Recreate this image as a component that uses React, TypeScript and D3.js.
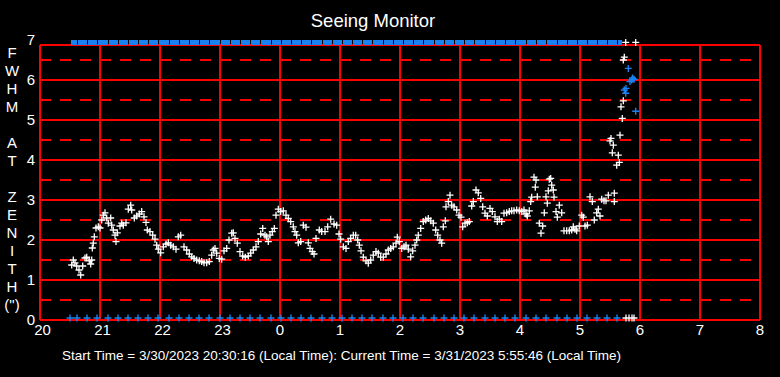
import React from "react";
import * as d3 from "d3";

// Minutes after 20:00 (local) and FWHM (arcsec) of the white seeing series
const seeingMinutes = [
  31.7, 33.3, 35, 36.7, 39, 40.7, 42.7, 45, 46.7, 49.3, 50.7, 51.7, 52.3, 53.3, 54.3, 56, 58.3, 60, 61.7, 63.3,
  65, 66.7, 68.3, 70.7, 71.7, 73.3, 75, 76, 77.3, 80, 81.7, 83.3, 86, 88.3, 90.7, 91.7, 94.3, 96.7, 99.3, 101.7,
  104, 106, 107.3, 110, 112.7, 115, 116.7, 118.3, 120.7, 123.3, 126, 128.3, 130.7, 133.3, 136, 138.3, 140.7, 144, 146.7, 149.3,
  151.7, 154, 156.7, 159.3, 161.7, 164, 166.7, 169.3, 171.7, 173.3, 175, 176.7, 179.3, 181.7, 184, 186.7, 189, 191.7, 193.3, 195,
  197.3, 200, 202.7, 205.3, 208.3, 210.7, 213.3, 216, 218.3, 220.7, 222.7, 225, 226.7, 228.3, 230, 232.3, 234.3, 236, 238.3, 240.7,
  243.3, 246, 248.3, 250.7, 253.3, 255, 256.7, 258.3, 260.7, 263.3, 266, 268.3, 270, 272.3, 274, 276, 279.3, 281.7, 285, 287.7,
  290.7, 294, 296.7, 299, 300.7, 303.3, 306, 308.3, 310.7, 313.3, 315.7, 317.7, 319.3, 321, 323.3, 326, 328.3, 330.7, 333.3, 336,
  338.3, 340.7, 343.3, 346, 348.3, 350.7, 353.3, 356, 357.3, 359.3, 361.7, 364, 366, 368.3, 370.7, 372.7, 375, 376.7, 378.3, 380.7,
  383.3, 385.7, 388.3, 390.7, 393.3, 395.7, 397.7, 400, 401.7, 403.3, 405.3, 406, 408.3, 410, 411.7, 414, 416.7, 419, 421, 422.7,
  425, 427.3, 429.3, 431.7, 433.3, 436, 438.3, 440.7, 442.7, 445, 447.3, 450, 452.3, 455, 457.3, 459.3, 461.7, 464, 466.7, 469.3,
  471.7, 474, 476.7, 479.3, 481.7, 484, 486, 487.3, 489.3, 490.7, 491.7, 494, 495.3, 496, 497.3, 499.3, 501, 502.7, 504.3, 506,
  507.3, 508.3, 509.3, 510.7, 511.7, 513.3, 514, 516, 517.3, 519.3, 521.7, 524, 526.7, 529.3, 531.7, 533.3, 535, 536.7, 539.3, 541.7,
  543.3, 545, 547.3, 550, 552.3, 554.3, 556.7, 558.3, 560, 561.7, 564, 566, 568.3, 570, 571, 572.3, 573.3, 574.3, 574.3, 576.7,
  578.3, 579.3, 580, 581, 582.3, 583.3, 583.3, 584.3, 585.7, 595.7, 586, 589, 592, 594,
];
const seeingValues = [
  1.375, 1.5, 1.43, 1.35, 1.25, 1.125, 1.35, 1.55, 1.57, 1.48, 1.4, 1.5, 1.8, 1.92, 2.08, 2.3, 2.33, 2.3, 2.5, 2.62,
  2.68, 2.55, 2.42, 2.55, 2.37, 2.25, 2.12, 1.96, 2.18, 2.35, 2.42, 2.37, 2.43, 2.77, 2.87, 2.75, 2.55, 2.6, 2.65, 2.71,
  2.58, 2.44, 2.25, 2.21, 2.12, 2.02, 1.87, 1.77, 1.68, 1.83, 1.9, 1.93, 1.87, 1.83, 1.77, 2.08, 2.12, 1.83, 1.75, 1.65,
  1.58, 1.54, 1.5, 1.48, 1.46, 1.43, 1.43, 1.46, 1.62, 1.75, 1.79, 1.67, 1.54, 1.52, 1.73, 1.79, 2.0, 2.17, 2.18, 2.04,
  1.92, 1.71, 1.6, 1.57, 1.6, 1.67, 1.75, 1.83, 1.96, 2.15, 2.29, 2.12, 2.08, 1.96, 2.12, 2.21, 2.29, 2.62, 2.77, 2.71,
  2.73, 2.62, 2.54, 2.46, 2.33, 2.21, 2.12, 1.93, 1.96, 2.37, 2.32, 1.93, 1.79, 1.71, 1.65, 2.04, 2.25, 2.21, 2.21, 2.33,
  2.52, 2.4, 2.37, 2.15, 2.02, 1.83, 1.79, 1.96, 2.04, 2.12, 2.12, 2.0, 1.87, 1.73, 1.57, 1.48, 1.42, 1.5, 1.62, 1.71,
  1.67, 1.57, 1.57, 1.65, 1.75, 1.79, 1.83, 1.92, 2.07, 1.96, 1.79, 1.83, 1.87, 1.77, 1.58, 1.73, 1.87, 2.0, 2.12, 2.29,
  2.46, 2.5, 2.54, 2.48, 2.42, 2.25, 2.12, 2.0, 1.92, 2.33, 2.48, 2.83, 2.96, 3.12, 2.87, 2.83, 2.75, 2.62, 2.57, 2.33,
  2.42, 2.43, 2.46, 2.85, 2.96, 3.25, 3.18, 3.04, 2.83, 2.67, 2.6, 2.79, 2.71, 2.58, 2.46, 2.52, 2.46, 2.67, 2.68, 2.71,
  2.73, 2.73, 2.75, 2.73, 2.71, 2.75, 2.65, 2.6, 2.73, 2.96, 3.07, 3.57, 3.32, 3.5, 3.08, 2.42, 2.17, 2.35, 2.68, 3.08,
  2.92, 3.23, 3.52, 3.54, 3.37, 3.25, 3.07, 2.71, 2.57, 2.87, 2.68, 2.23, 2.23, 2.23, 2.25, 2.33, 2.27, 2.23, 2.35, 2.62,
  2.57, 2.35, 2.37, 3.08, 2.96, 2.5, 2.68, 2.77, 2.6, 3.02, 2.98, 2.98, 3.12, 4.48, 4.54, 4.18, 4.37, 3.17, 2.96, 3.87,
  4.12, 3.94, 4.62, 5.33, 5.04, 5.48, 6.5, 6.57, 6.94, 6.94, 0.05, 0.05, 0.05, 0.05,
];

// Blue series: marks pinned at the bottom and top of the range, and the last few readings
const blueMinutes = [
  30, 37, 47, 57, 68, 78, 88, 98, 108, 118, 129, 139, 149, 159, 169, 180, 190, 200, 210, 220,
  231, 241, 251, 261, 271, 282, 292, 302, 312, 322, 332, 343, 353, 363, 373, 383, 394, 404, 414, 424,
  434, 445, 455, 465, 475, 486, 496, 506, 517, 527, 537, 547, 557, 567, 577,
];
const blueTopEndMinute = 582;
const blueLateMinutes = [584.3, 585.7, 586, 588.3, 590, 591.7, 592.5, 594, 595.7];
const blueLateValues = [5.75, 5.67, 5.79, 6.29, 5.96, 6.0, 6.05, 6.02, 5.22];

const xTicks = [20, 21, 22, 23, 24, 25, 26, 27, 28, 29, 30, 31, 32];
const xTickLabels = ["20", "21", "22", "23", "0", "1", "2", "3", "4", "5", "6", "7", "8"];
const yTicks = [0, 1, 2, 3, 4, 5, 6, 7];
const yHalfTicks = [0.5, 1.5, 2.5, 3.5, 4.5, 5.5, 6.5];
const yTitleLetters = ["F", "W", "H", "M", "", "A", "T", "", "Z", "E", "N", "I", "T", "H", "(\")"];
const title = "Seeing Monitor";
const footer =
  "Start Time = 3/30/2023 20:30:16 (Local Time): Current Time = 3/31/2023 5:55:46 (Local Time)";

const W = 780;
const H = 377;
const FONT = "'Liberation Sans', Arial, sans-serif";
const RED = "#ff0000";
const BLUE = "#1a82f0";

export default function App() {
  const x = d3.scaleLinear().domain([20, 32]).range([40, 760]);
  const y = d3.scaleLinear().domain([0, 7]).range([320, 40]);
  const hx = (m: number) => x(20 + m / 60);
  const frameTop = y(7) + 5;
  const plus = (cx: number, cy: number, r: number) =>
    `M${cx - r},${cy}h${2 * r}M${cx},${cy - r}v${2 * r}`;

  const whitePath = seeingMinutes
    .map((m, i) => plus(hx(m), y(seeingValues[i]), 3.5))
    .join("");
  const blueBottomPath = blueMinutes.map((m) => plus(hx(m), y(0.05), 3.5)).join("");
  const blueLatePath = blueLateMinutes
    .map((m, i) => plus(hx(m), y(blueLateValues[i]), 3.5))
    .join("");
  const topEdges = [...blueMinutes, blueTopEndMinute];

  return (
    <svg
      width={W}
      height={H}
      style={{ position: "absolute", left: 0, top: 0, background: "#000" }}
      fontFamily={FONT}
    >
      <rect x={0} y={0} width={W} height={H} fill="#000" />
      <text x={373} y={27} fill="#fff" fontSize={18.5} textAnchor="middle">
        {title}
      </text>

      {/* dashed half-unit lines */}
      {yHalfTicks.map((v) => (
        <line
          key={"d" + v}
          x1={x(20)}
          x2={x(32)}
          y1={y(v)}
          y2={y(v)}
          stroke={RED}
          strokeWidth={2}
          strokeDasharray="11 9"
        />
      ))}
      {/* solid grid */}
      {yTicks
        .filter((v) => v < 7)
        .map((v) => (
          <line key={"h" + v} x1={x(20)} x2={x(32)} y1={y(v)} y2={y(v)} stroke={RED} strokeWidth={2} />
        ))}
      <line x1={x(20)} x2={x(32)} y1={frameTop} y2={frameTop} stroke={RED} strokeWidth={2} />
      {xTicks.map((t) => (
        <line key={"v" + t} x1={x(t)} x2={x(t)} y1={frameTop} y2={y(0)} stroke={RED} strokeWidth={2} />
      ))}

      {/* top blue band */}
      {topEdges.slice(0, -1).map((m, i) => (
        <rect
          key={"tb" + i}
          x={hx(m) + 1}
          y={y(7)}
          width={hx(topEdges[i + 1]) - hx(m) - 1}
          height={5}
          fill={BLUE}
        />
      ))}

      <path d={blueBottomPath} stroke={BLUE} strokeWidth={1.4} fill="none" />
      <path d={whitePath} stroke="#fff" strokeWidth={1.3} fill="none" />
      <path d={blueLatePath} stroke={BLUE} strokeWidth={1.4} fill="none" />

      {/* y tick labels */}
      {yTicks.map((v) => (
        <text key={"yl" + v} x={31} y={y(v) + 5} fill="#fff" fontSize={15} textAnchor="middle">
          {v}
        </text>
      ))}
      {/* x tick labels */}
      {xTicks.map((t, i) => (
        <text
          key={"xl" + t}
          x={x(t) + (xTickLabels[i].length > 1 ? 2.5 : 0)}
          y={335}
          fill="#fff"
          fontSize={15}
          textAnchor="middle"
        >
          {xTickLabels[i]}
        </text>
      ))}
      {/* vertical y title */}
      {yTitleLetters.map((c, i) => (
        <text key={"yt" + i} x={12} y={53 + i * 18 + 5} fill="#fff" fontSize={15} textAnchor="middle">
          {c}
        </text>
      ))}
      <text x={62} y={360} fill="#fff" fontSize={13.5}>
        {footer}
      </text>
    </svg>
  );
}
